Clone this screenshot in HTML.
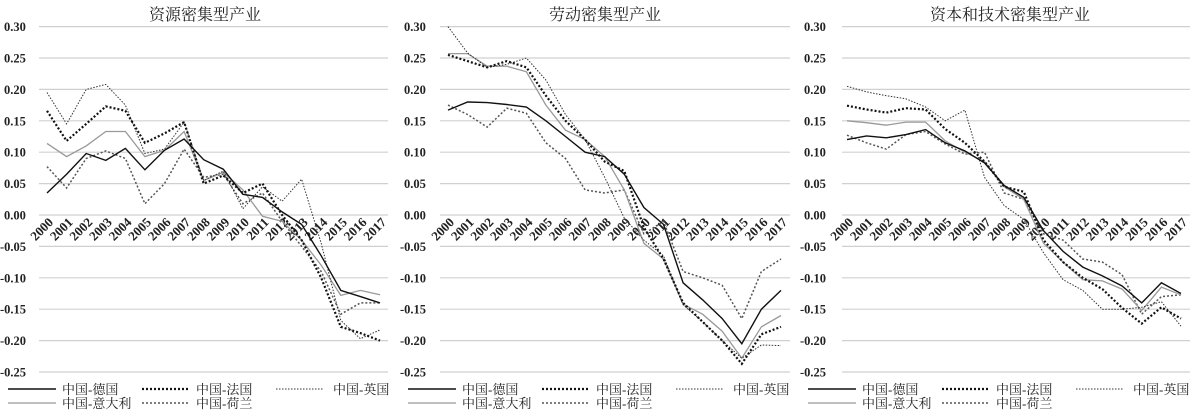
<!DOCTYPE html>
<html><head><meta charset="utf-8"><style>
html,body{margin:0;padding:0;background:#fff;}
svg{display:block;}
</style></head><body>
<svg id="s" width="1200" height="419" xmlns="http://www.w3.org/2000/svg"></svg>
<script>
const D=[
{title:"资源密集型产业",ox:0,gx0:39,gx1:388,x0:47,x1:380,tx:205,
d:[[0.035,0.065,0.098,0.087,0.106,0.072,0.103,0.121,0.088,0.073,0.033,0.028,0.005,-0.015,-0.065,-0.12,-0.13,-0.14],
[0.166,0.118,0.145,0.173,0.166,0.115,0.13,0.148,0.05,0.063,0.035,0.05,0.0,-0.04,-0.1,-0.178,-0.188,-0.2],
[0.195,0.145,0.2,0.208,0.175,0.098,0.105,0.148,0.055,0.07,0.01,0.045,0.022,0.057,-0.045,-0.168,-0.197,-0.183],
[0.114,0.093,0.11,0.133,0.133,0.093,0.103,0.133,0.055,0.068,0.04,-0.002,-0.01,-0.04,-0.08,-0.128,-0.12,-0.127],
[0.077,0.043,0.09,0.102,0.09,0.018,0.05,0.105,0.06,0.065,0.018,0.035,-0.01,-0.05,-0.09,-0.158,-0.14,-0.14]]},
{title:"劳动密集型产业",ox:400,gx0:440,gx1:790,x0:448,x1:781,tx:605,
d:[[0.167,0.18,0.179,0.176,0.172,0.15,0.125,0.1,0.093,0.065,0.012,-0.015,-0.108,-0.135,-0.165,-0.205,-0.15,-0.12],
[0.255,0.245,0.235,0.245,0.235,0.19,0.15,0.12,0.085,0.07,-0.02,-0.07,-0.14,-0.17,-0.2,-0.237,-0.19,-0.178],
[0.3,0.258,0.235,0.24,0.25,0.215,0.16,0.12,0.06,-0.005,-0.04,-0.065,-0.143,-0.17,-0.2,-0.228,-0.207,-0.208],
[0.257,0.257,0.237,0.237,0.228,0.175,0.135,0.12,0.093,0.04,-0.045,-0.07,-0.142,-0.158,-0.185,-0.228,-0.178,-0.16],
[0.175,0.16,0.14,0.17,0.162,0.115,0.09,0.04,0.035,0.04,-0.03,-0.01,-0.09,-0.1,-0.112,-0.165,-0.09,-0.07]]},
{title:"资本和技术密集型产业",ox:800,gx0:842,gx1:1190,x0:847,x1:1181,tx:1010,
d:[[0.12,0.126,0.123,0.128,0.136,0.115,0.102,0.083,0.047,0.028,-0.025,-0.058,-0.083,-0.097,-0.113,-0.14,-0.108,-0.125],
[0.174,0.168,0.163,0.17,0.168,0.137,0.115,0.085,0.045,0.037,-0.04,-0.075,-0.1,-0.118,-0.148,-0.173,-0.147,-0.165],
[0.205,0.196,0.19,0.185,0.172,0.15,0.167,0.06,0.015,-0.007,-0.06,-0.103,-0.12,-0.15,-0.15,-0.147,-0.138,-0.177],
[0.15,0.147,0.143,0.148,0.148,0.118,0.1,0.085,0.045,0.025,-0.045,-0.075,-0.103,-0.105,-0.118,-0.152,-0.115,-0.127],
[0.127,0.115,0.105,0.128,0.133,0.113,0.097,0.1,0.035,0.025,-0.03,-0.04,-0.07,-0.075,-0.095,-0.158,-0.13,-0.127]]}];
const ST=[
'stroke="#111" stroke-width="1.4" fill="none"',
'stroke="#111" stroke-width="2.2" stroke-dasharray="2,2" fill="none"',
'stroke="#333" stroke-width="1" stroke-dasharray="1.5,1.5" fill="none"',
'stroke="#999" stroke-width="1.3" fill="none"',
'stroke="#555" stroke-width="1.5" stroke-dasharray="2,2" fill="none"'];
const NM=["中国-德国","中国-法国","中国-英国","中国-意大利","中国-荷兰"];
const Y=v=>215-628*v;
let h='';
const FS='font-family="Liberation Serif,serif" font-weight="bold"';
const CJ='font-family="Liberation Serif,Noto Serif CJK SC,serif"';
for(const p of D){
 h+=`<text x="${p.tx}" y="20" ${CJ} font-size="16" text-anchor="middle" fill="#222">${p.title}</text>`;
 for(let i=0;i<12;i++){const v=0.30-0.05*i,y=Y(v);
  h+=`<line x1="${p.gx0}" x2="${p.gx1}" y1="${y}" y2="${y}" stroke="#d0d0d0" stroke-width="1.2"/>`;
  h+=`<text x="${p.ox+(v<-0.001?0:4)}" y="${y+4.5}" ${FS} font-size="12.5" fill="#222">${(v<-0.001?'-':'')+Math.abs(v).toFixed(2)}</text>`;}
 const st=(p.x1-p.x0)/17;
 for(let k=0;k<18;k++){const x=p.x0+st*k+7;
  h+=`<text transform="translate(${x},${223}) rotate(-45)" ${FS} font-size="13" text-anchor="end" fill="#222">${2000+k}</text>`;}
 [4,3,2,1,0].forEach(s=>{const pts=p.d[s].map((v,k)=>(p.x0+st*k).toFixed(1)+','+Y(v).toFixed(1)).join(' ');
  h+=`<polyline points="${pts}" ${ST[s]}/>`;});
 const L=[[8,389],[142,389],[276,389],[8,403],[142,403]];
 L.forEach((q,s)=>{const x=p.ox+q[0];
  h+=`<line x1="${x}" x2="${x+48}" y1="${q[1]}" y2="${q[1]}" ${ST[s]}/>`;
  h+=`<text x="${x+(s==2?57:54)}" y="${q[1]+5}" ${CJ} font-size="13" fill="#222">${NM[s]}</text>`;});
}
document.getElementById('s').innerHTML=h;
</script>
</body></html>
